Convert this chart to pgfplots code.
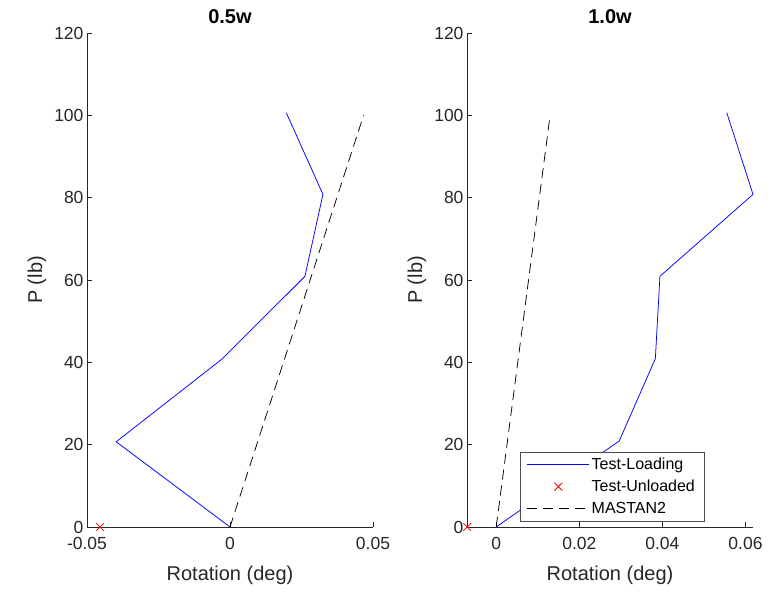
\documentclass[border=0pt]{standalone}
\usepackage{fontspec}
\setmainfont{Liberation Sans}
\usepackage{pgfplots}
\pgfplotsset{compat=1.18}
\definecolor{axgray}{HTML}{262626}
\pgfplotsset{
  mystyle/.style={
    scale only axis, width=286pt, height=494pt,
    axis x line*=bottom, axis y line*=left,
    axis line style={axgray, line width=0.8pt, -},
    tick style={axgray, line width=0.8pt},
    tick align=inside, major tick length=5pt,
    ymin=0, ymax=120, ytick={0,20,...,120},
    scaled x ticks=false, scaled y ticks=false,
    tick label style={font=\fontsize{17.5}{20}\selectfont, text=axgray},
    xticklabel style={yshift=-7pt},
    /pgf/number format/assume math mode=true,
    label style={font=\fontsize{20}{22}\selectfont, text=axgray},
    title style={font=\fontsize{20}{22}\selectfont\bfseries, at={(axis description cs:0.5,1.022)}, anchor=center},
    xlabel style={at={(axis description cs:0.5,-0.097)}, anchor=center},
    ylabel style={at={(axis description cs:-0.175,0.5)}, anchor=center},
    xlabel={Rotation (deg)}, ylabel={P (lb)},
    clip=false,
    legend image code/.code={\draw[mark repeat=2,mark phase=2,#1] plot coordinates {(0pt,0pt) (31pt,0pt) (62pt,0pt)};},
  },
}
\begin{document}
\begin{tikzpicture}
\useasboundingbox (0,0) rectangle (781pt,592pt);
\begin{axis}[mystyle, at={(87pt,65pt)}, anchor=south west,
  xmin=-0.05, xmax=0.05, xtick={-0.05,0,0.05}, xticklabels={-0.05,0,0.05},
  title={0.5w}]
\addplot[color=red, only marks, mark=x, mark size=5.5pt, line width=0.8pt] coordinates {(-0.0454,0)};
\addplot[color=blue, line width=0.75pt, mark=none] coordinates {(0,0) (-0.0398,20.7) (-0.0026,40.9) (0.0262,60.9) (0.0325,80.8) (0.0197,100.6)};
\addplot[color=black, line width=0.75pt, dash pattern=on 10pt off 6pt, mark=none] coordinates {(0,0) (0.0467,100)};
\end{axis}
\begin{axis}[mystyle, at={(467pt,65pt)}, anchor=south west,
  xmin=-0.00703, xmax=0.0618, xtick={0,0.02,0.04,0.06}, xticklabels={0,0.02,0.04,0.06},
  title={1.0w},
  legend style={at={(rel axis cs:0.829,0.012)}, anchor=south east, font=\fontsize{16}{18}\selectfont,
    draw=gray!60!black, fill=white, row sep=5pt, inner xsep=7pt, inner ysep=4pt},
  legend cell align=left]
\addplot[color=blue, line width=0.75pt, mark=none] coordinates {(0,0) (0.0296,20.9) (0.0383,40.9) (0.0394,60.9) (0.0618,80.8) (0.0555,100.6)};
\addlegendentry{Test-Loading}
\addplot[color=red, only marks, mark=x, mark size=5.5pt, line width=0.8pt] coordinates {(-0.0070,0)};
\addlegendentry{Test-Unloaded}
\addplot[color=black, line width=0.75pt, dash pattern=on 10pt off 6pt, mark=none] coordinates {(0,0) (0.01297,100)};
\addlegendentry{MASTAN2}
\end{axis}
\end{tikzpicture}
\end{document}
